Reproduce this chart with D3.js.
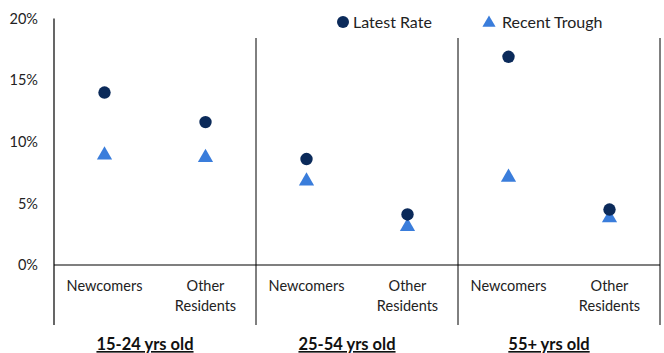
<!DOCTYPE html>
<html>
<head>
<meta charset="utf-8">
<script src="https://cdn.jsdelivr.net/npm/d3@7"></script>
<style>
  html, body { margin: 0; padding: 0; background: #fff; }
  svg { display: block; font-family: Lato, "Open Sans", sans-serif; }
</style>
</head>
<body>
<svg id="chart" width="664" height="353"></svg>
<script>
// Unemployment rates by age group and residency status
const ageGroups = ["15-24 yrs old", "25-54 yrs old", "55+ yrs old"];
const residentTypes = ["Newcomers", "Other Residents"];
const latestRate = [
  [0.140, 0.116],
  [0.086, 0.041],
  [0.169, 0.045]
];
const recentTrough = [
  [0.090, 0.088],
  [0.069, 0.032],
  [0.072, 0.039]
];
const yTicks = [0, 0.05, 0.10, 0.15, 0.20];
const seriesNames = ["Latest Rate", "Recent Trough"];

const navy = "#0b2a5a";
const blue = "#3a7ddb";

const svg = d3.select("#chart");

const plotLeft = 54, plotRight = 660, plotTop = 18.6, plotBottom = 265;
const axisBottom = 325, sepTop = 38;

const x = d3.scaleBand().domain(ageGroups).range([plotLeft, plotRight]).padding(0);
const xSub = d3.scaleBand().domain(residentTypes).range([0, x.bandwidth()]).padding(0);
const y = d3.scaleLinear().domain([0, 0.2]).range([plotBottom, plotTop]);

// y axis labels (no tick marks, no domain line from axis)
const yAxis = d3.axisLeft(y).tickValues(yTicks).tickFormat(d3.format(".0%")).tickSize(0).tickPadding(16);
const gy = svg.append("g").attr("transform", `translate(${plotLeft},0)`).call(yAxis);
gy.select(".domain").remove();
gy.selectAll("text").attr("font-size", 14.5).attr("fill", "#222").attr("font-family", "Lato, sans-serif");

// Frame lines
svg.append("line").attr("x1", plotLeft).attr("x2", plotLeft).attr("y1", plotTop).attr("y2", axisBottom)
  .attr("stroke", "#000").attr("stroke-width", 1.2);
svg.append("line").attr("x1", plotLeft).attr("x2", plotRight).attr("y1", y(0)).attr("y2", y(0))
  .attr("stroke", "#000").attr("stroke-width", 1.2);
svg.selectAll("line.sep").data(ageGroups).enter().append("line").attr("class", "sep")
  .attr("x1", d => x(d) + x.bandwidth()).attr("x2", d => x(d) + x.bandwidth())
  .attr("y1", sepTop).attr("y2", axisBottom)
  .attr("stroke", "#000").attr("stroke-width", 1);

// Flattened points
const points = [];
ageGroups.forEach((g, gi) => {
  residentTypes.forEach((r, ri) => {
    points.push({ g, r, latest: latestRate[gi][ri], trough: recentTrough[gi][ri] });
  });
});
const cx = d => x(d.g) + xSub(d.r) + xSub.bandwidth() / 2;

const triangle = d3.symbol().type(d3.symbolTriangle).size(100);

// Recent trough triangles
svg.selectAll("path.trough").data(points).enter().append("path").attr("class", "trough")
  .attr("d", triangle)
  .attr("transform", d => `translate(${cx(d)},${y(d.trough) + 1})`)
  .attr("fill", blue);

// Latest rate circles
svg.selectAll("circle.latest").data(points).enter().append("circle").attr("class", "latest")
  .attr("cx", cx).attr("cy", d => y(d.latest)).attr("r", 6.2)
  .attr("fill", navy);

// Category labels
const catLabels = svg.append("g");
points.forEach(d => {
  const words = d.r === "Other Residents" ? ["Other", "Residents"] : [d.r];
  const t = catLabels.append("text").attr("text-anchor", "middle")
    .attr("font-size", 14.5).attr("fill", "#222");
  words.forEach((w, i) => {
    t.append("tspan").attr("x", cx(d)).attr("y", 291 + i * 19.5).text(w);
  });
});

// Age group labels
svg.selectAll("text.group").data(ageGroups).enter().append("text").attr("class", "group")
  .attr("x", d => x(d) + x.bandwidth() / 2 - 10).attr("y", 350)
  .attr("text-anchor", "middle").attr("font-size", 16.5).attr("font-weight", "bold")
  .attr("text-decoration", "underline").attr("fill", "#111")
  .text(d => d);

// Legend
const legend = svg.append("g");
legend.append("circle").attr("cx", 343).attr("cy", 22).attr("r", 6).attr("fill", navy);
legend.append("text").attr("x", 353).attr("y", 27.5).attr("font-size", 16).attr("fill", "#222").text(seriesNames[0]);
legend.append("path").attr("d", d3.symbol().type(d3.symbolTriangle).size(75))
  .attr("transform", "translate(489,23)").attr("fill", blue);
legend.append("text").attr("x", 502).attr("y", 27.5).attr("font-size", 16).attr("fill", "#222").text(seriesNames[1]);
</script>
</body>
</html>
